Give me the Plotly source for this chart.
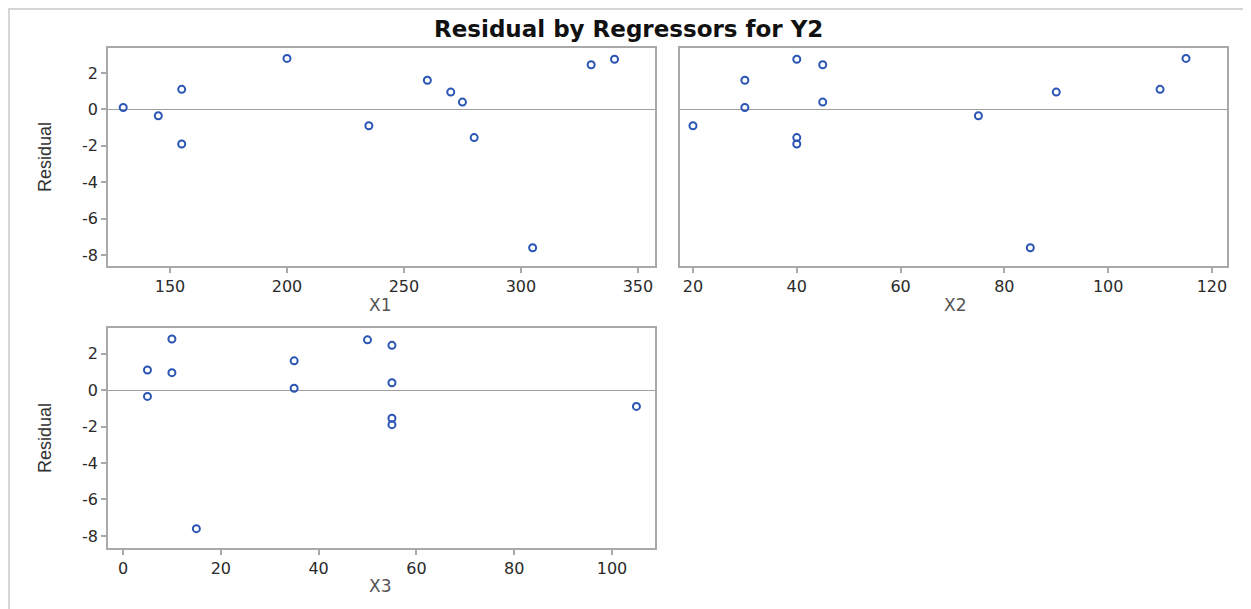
import plotly.graph_objects as go

# ---- data (13 observations) ----
x1 = [130, 145, 155, 155, 200, 235, 260, 270, 275, 280, 305, 330, 340]
x2 = [30, 75, 110, 40, 115, 20, 30, 90, 45, 40, 85, 45, 40]
x3 = [35, 5, 5, 55, 10, 105, 35, 10, 55, 55, 15, 55, 50]
residual = [0.1, -0.35, 1.1, -1.9, 2.8, -0.9, 1.6, 0.95, 0.4, -1.55, -7.6, 2.45, 2.75]

x1_ticks = [150, 200, 250, 300, 350]
x2_ticks = [20, 40, 60, 80, 100, 120]
x3_ticks = [0, 20, 40, 60, 80, 100]
y_ticks = [-8, -6, -4, -2, 0, 2]
y_tick_labels = ["-8", "-6", "-4", "-2", "0", "2"]

W, H = 1251, 609
OFF = 8  # default page body margin
MARK = "#2a55b5"
FRAME = "#a9a9a9"
TICKFONT = dict(family="DejaVu Sans", size=16, color="#2a2a2a")

def px(v):
    return (v - OFF) / W

def py(v):
    return 1 - (v - OFF) / H

fig = go.Figure()
for xs, xa, ya in [(x1, "x", "y"), (x2, "x2", "y2"), (x3, "x3", "y3")]:
    fig.add_trace(go.Scatter(
        x=xs, y=residual, mode="markers", xaxis=xa, yaxis=ya,
        marker=dict(symbol="circle-open", size=7, color=MARK, line=dict(width=2, color=MARK)),
        showlegend=False, hoverinfo="x+y"))

common_x = dict(showline=True, mirror=True, linecolor=FRAME, linewidth=1.5,
                ticks="outside", ticklen=5, tickcolor=FRAME, tickwidth=1.5,
                showgrid=False, zeroline=False, tickfont=TICKFONT, fixedrange=True)
common_y = dict(showline=True, mirror=True, linecolor=FRAME, linewidth=1.5,
                showgrid=False, zeroline=True, zerolinecolor="#a0a0a0", zerolinewidth=1,
                tickfont=TICKFONT, fixedrange=True)

top_dom = [py(266), py(48)]
bot_dom = [py(548), py(328)]
left_dom = [px(108), px(655)]
right_dom = [px(680), px(1227)]

fig.update_layout(
    width=W, height=H,
    margin=dict(l=0, r=0, t=0, b=0),
    paper_bgcolor="white", plot_bgcolor="white",
    xaxis=dict(domain=left_dom, range=[123.5, 357.3], tickvals=x1_ticks, anchor="y", **common_x),
    yaxis=dict(domain=top_dom, range=[-8.6, 3.37], tickvals=y_ticks, ticktext=y_tick_labels,
               anchor="x", ticks="outside", ticklen=5, tickcolor=FRAME, tickwidth=1.5, **common_y),
    xaxis2=dict(domain=right_dom, range=[17.5, 122.9], tickvals=x2_ticks, anchor="y2", **common_x),
    yaxis2=dict(domain=top_dom, range=[-8.6, 3.37], anchor="x2", showticklabels=False,
                ticks="", **common_y),
    xaxis3=dict(domain=left_dom, range=[-3.07, 108.8], tickvals=x3_ticks, anchor="y3", **common_x),
    yaxis3=dict(domain=bot_dom, range=[-8.66, 3.4], tickvals=y_ticks, ticktext=y_tick_labels,
                anchor="x3", ticks="outside", ticklen=5, tickcolor=FRAME, tickwidth=1.5, **common_y),
)

ann = [
    dict(text="<b>Residual by Regressors for Y2</b>", x=px(628), y=py(29),
         font=dict(family="DejaVu Sans", size=23, color="#111111")),
    dict(text="X1", x=px(380), y=py(305), font=dict(family="DejaVu Sans", size=17, color="#555555")),
    dict(text="X2", x=px(955), y=py(305), font=dict(family="DejaVu Sans", size=17, color="#555555")),
    dict(text="X3", x=px(380), y=py(586), font=dict(family="DejaVu Sans", size=17, color="#555555")),
    dict(text="Residual", x=px(45), y=py(157), textangle=-90,
         font=dict(family="Liberation Sans", size=18, color="#333333")),
    dict(text="Residual", x=px(45), y=py(438), textangle=-90,
         font=dict(family="Liberation Sans", size=18, color="#333333")),
]
for a in ann:
    a.update(xref="paper", yref="paper", showarrow=False, xanchor="center", yanchor="middle")
fig.update_layout(annotations=ann)

fig.add_shape(type="rect", xref="paper", yref="paper",
              x0=0.0008, x1=1.05, y0=-0.05, y1=0.9985,
              line=dict(color="#d6d6d6", width=2), layer="below")

fig.write_html("out.html")
